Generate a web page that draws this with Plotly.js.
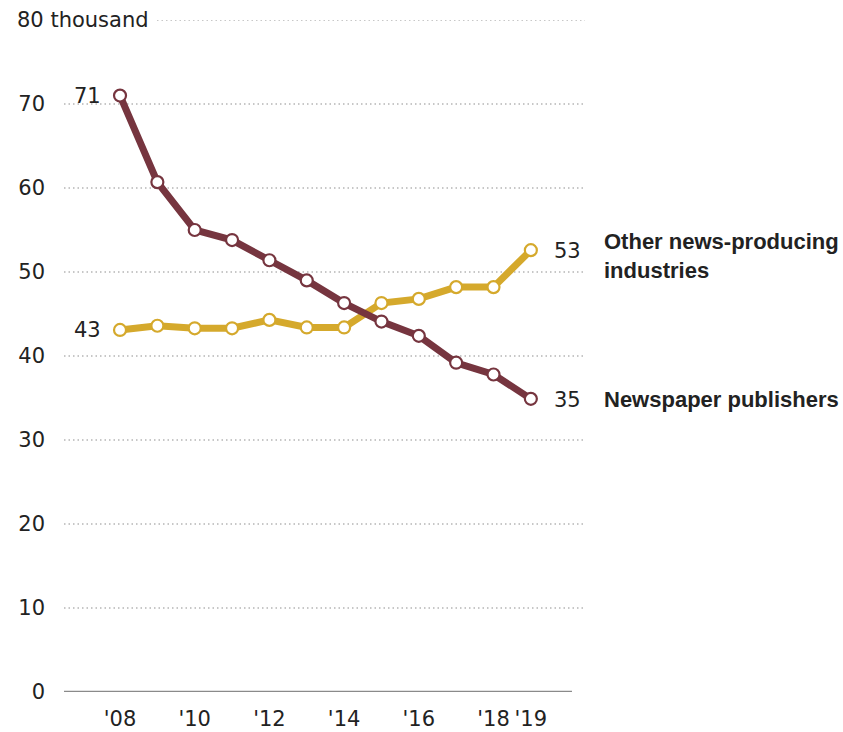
<!DOCTYPE html>
<html>
<head>
<meta charset="utf-8">
<script src="https://cdn.plot.ly/plotly-3.0.1.min.js"></script>
<style>
  html, body { margin: 0; padding: 0; background: #fff; }
  #chart { width: 843px; height: 732px; }
</style>
</head>
<body>
<div id="chart"></div>
<script>
// ---- data ----
const years = [2008, 2009, 2010, 2011, 2012, 2013, 2014, 2015, 2016, 2017, 2018, 2019];
const newspaperPublishers = [71.0, 60.7, 55.0, 53.8, 51.4, 49.0, 46.3, 44.1, 42.4, 39.2, 37.8, 34.9];
const otherNewsIndustries = [43.1, 43.6, 43.3, 43.3, 44.3, 43.4, 43.4, 46.3, 46.8, 48.2, 48.2, 52.6];
const seriesNames = ["Newspaper publishers", "Other news-producing<br>industries"];
const yTickVals = [0, 10, 20, 30, 40, 50, 60, 70];
const yTickText = ["0", "10", "20", "30", "40", "50", "60", "70"];
const yTopVal = 80;
const yTopText = "80 thousand";
const xTickVals = [2008, 2010, 2012, 2014, 2016, 2018, 2019];
const xTickText = ["'08", "'10", "'12", "'14", "'16", "'18", "'19"];

// ---- style ----
const maroon = "#76353F";
const gold = "#D5A92C";
const txt = "#222222";
const regFont = "DejaVu Sans";
const boldFont = "Liberation Sans";

const last = years.length - 1;

const traces = [
  {
    x: years, y: otherNewsIndustries, type: "scatter", mode: "lines+markers",
    line: { color: gold, width: 7 },
    marker: { size: 12, color: "#ffffff", line: { color: gold, width: 2.2 } },
    cliponaxis: false, hoverinfo: "skip"
  },
  {
    x: years, y: newspaperPublishers, type: "scatter", mode: "lines+markers",
    line: { color: maroon, width: 7 },
    marker: { size: 12, color: "#ffffff", line: { color: maroon, width: 2.2 } },
    cliponaxis: false, hoverinfo: "skip"
  }
];

const shapes = [];
// dotted gridlines
yTickVals.filter(v => v > 0).forEach(v => {
  shapes.push({ type: "line", xref: "paper", yref: "y", x0: 0, x1: 1, y0: v, y1: v,
    line: { color: "#b5b5b5", width: 1.5, dash: "1.5px,3px" }, layer: "below" });
});
shapes.push({ type: "line", xref: "paper", yref: "y", x0: 0.1785, x1: 1, y0: yTopVal, y1: yTopVal,
  line: { color: "#b5b5b5", width: 1.5, dash: "1.5px,3px" }, layer: "below" });
// baseline
shapes.push({ type: "line", xref: "paper", yref: "y", x0: 0, x1: 0.975, y0: 0, y1: 0,
  line: { color: "#8a8a8a", width: 2.5 }, layer: "below" });

const fmt = v => String(Math.round(v));

const annotations = [
  { xref: "paper", yref: "y", x: -0.094, y: yTopVal, xanchor: "left", yanchor: "middle",
    text: yTopText, showarrow: false, font: { family: regFont, size: 21, color: txt } },
  // start values
  { x: years[0], y: newspaperPublishers[0], xanchor: "right", yanchor: "middle", xshift: -17,
    text: fmt(newspaperPublishers[0]), showarrow: false, font: { family: regFont, size: 21, color: txt } },
  { x: years[0], y: otherNewsIndustries[0], xanchor: "right", yanchor: "middle", xshift: -17,
    text: fmt(otherNewsIndustries[0]), showarrow: false, font: { family: regFont, size: 21, color: txt } },
  // end values
  { x: years[last], y: newspaperPublishers[last], xanchor: "left", yanchor: "middle", xshift: 21, yshift: -1,
    text: fmt(newspaperPublishers[last]), showarrow: false, font: { family: regFont, size: 21, color: txt } },
  { x: years[last], y: otherNewsIndustries[last], xanchor: "left", yanchor: "middle", xshift: 21, yshift: -1,
    text: fmt(otherNewsIndustries[last]), showarrow: false, font: { family: regFont, size: 21, color: txt } },
  // series names
  { x: years[last], y: newspaperPublishers[last], xanchor: "left", yanchor: "middle", xshift: 71, yshift: -1,
    text: "<b>" + seriesNames[0] + "</b>", showarrow: false, font: { family: boldFont, size: 22, color: txt } },
  { x: years[last], y: otherNewsIndustries[last], xanchor: "left", yanchor: "middle", xshift: 71, yshift: -6,
    align: "left",
    text: "<b>" + seriesNames[1] + "</b>", showarrow: false, font: { family: boldFont, size: 22, color: txt } }
];

const layout = {
  width: 843, height: 732,
  margin: { l: 64, r: 258, t: 20, b: 40 },
  paper_bgcolor: "#ffffff", plot_bgcolor: "#ffffff",
  showlegend: false,
  xaxis: {
    range: [2006.5, 2020.45],
    tickvals: xTickVals, ticktext: xTickText,
    showgrid: false, zeroline: false, showline: false,
    ticks: "", ticklabelstandoff: 12,
    tickfont: { family: regFont, size: 21, color: txt },
    fixedrange: true
  },
  yaxis: {
    range: [0, 80],
    tickvals: yTickVals, ticktext: yTickText,
    showgrid: false, zeroline: false, showline: false,
    ticks: "", ticklabelstandoff: 18,
    tickfont: { family: regFont, size: 21, color: txt },
    fixedrange: true
  },
  shapes: shapes,
  annotations: annotations
};

Plotly.newPlot("chart", traces, layout, { displayModeBar: false, staticPlot: true });
</script>
</body>
</html>
